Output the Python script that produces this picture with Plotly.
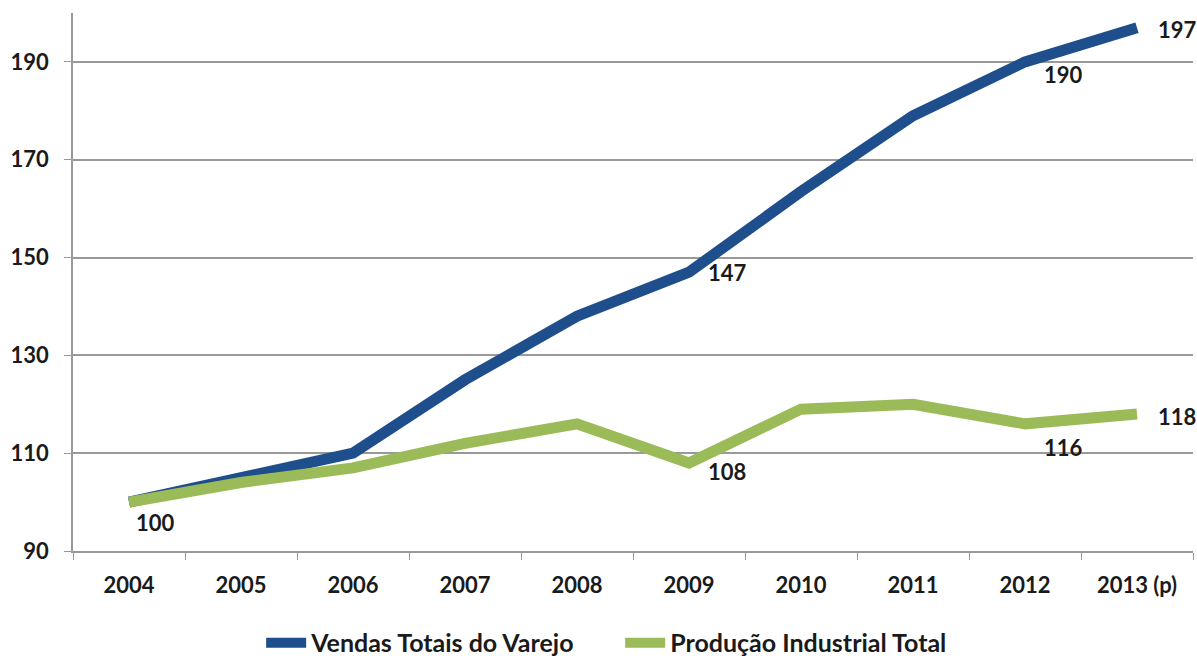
import plotly.graph_objects as go

years = ["2004", "2005", "2006", "2007", "2008", "2009", "2010", "2011", "2012", "2013 (p)"]
vendas = [100, 105, 110, 125, 138, 147, 163.5, 179, 190, 197]
producao = [100, 104, 107, 112, 116, 108, 119, 120, 116, 118]

name_vendas = "Vendas Totais do Varejo"
name_producao = "Produção Industrial Total"

# indices of labelled points and their pixel offsets (style only)
vendas_labels = {5: (38, 0), 8: (38, -13), 9: (40, -2)}
producao_labels = {0: (26, -20), 5: (38, -9), 8: (38, -24), 9: (40, -2)}

blue = "#1F4E8C"
green = "#9BBB59"
font_family = "Lato, 'Open Sans', sans-serif"
txt = "#1a1a1a"

fig = go.Figure()
fig.add_trace(go.Scatter(x=years, y=vendas, mode="lines", name=name_vendas,
                         line=dict(color=blue, width=11)))
fig.add_trace(go.Scatter(x=years, y=producao, mode="lines", name=name_producao,
                         line=dict(color=green, width=11)))

annotations = []
for series, labels in ((vendas, vendas_labels), (producao, producao_labels)):
    for i, (dx, dy) in labels.items():
        annotations.append(dict(x=i, y=series[i], xref="x", yref="y",
                                text=str(round(series[i])),
                                showarrow=False, xshift=dx, yshift=dy,
                                font=dict(size=22, color=txt, family=font_family, weight="bold")))

fig.update_layout(
    width=1197, height=656,
    margin=dict(l=73, r=4, t=13, b=105, autoexpand=False),
    paper_bgcolor="white", plot_bgcolor="white",
    font=dict(family=font_family, size=22, color=txt, weight="bold"),
    showlegend=True,
    legend=dict(orientation="h", x=0.168, xanchor="left", y=-0.171, yanchor="middle",
                font=dict(size=25, color=txt, family=font_family, weight="bold"),
                itemwidth=40, tracegroupgap=0,
                entrywidth=304, entrywidthmode="pixels"),
    annotations=annotations,
)
fig.update_xaxes(type="category", showline=True, linecolor="#999999", linewidth=1.5,
                 ticks="outside", tickson="boundaries", ticklen=7, tickcolor="#999999",
                 showgrid=False, automargin=False, ticklabelstandoff=14,
                 tickfont=dict(size=22, family=font_family, color=txt, weight="bold"),
                 range=[-0.5, 9.5])
fig.update_yaxes(range=[90, 200], tickvals=[90, 110, 130, 150, 170, 190],
                 showline=True, linecolor="#999999", linewidth=1.5,
                 ticks="outside", ticklen=7, tickcolor="#999999", automargin=False,
                 ticklabelstandoff=11,
                 showgrid=True, gridcolor="#999999", gridwidth=1.5, zeroline=False,
                 tickfont=dict(size=22, family=font_family, color=txt, weight="bold"))

fig.write_html("out.html", config={"displayModeBar": False},
               post_script="document.body.style.margin='0px';")
